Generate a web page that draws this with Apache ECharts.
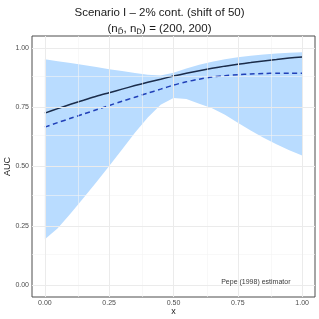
<!DOCTYPE html>
<html>
<head>
<meta charset="utf-8">
<script src="https://cdn.jsdelivr.net/npm/echarts@6/dist/echarts.min.js"></script>
<style>html,body{margin:0;padding:0;background:#fff}#c{width:319px;height:319px}</style>
</head>
<body>
<div id="c"></div>
<script>
var xs = [0,0.05,0.1,0.15,0.2,0.25,0.3,0.35,0.4,0.45,0.5,0.55,0.6,0.65,0.7,0.75,0.8,0.85,0.9,0.95,1];
var trueAUC = [0.725,0.744,0.762,0.779,0.796,0.811,0.826,0.841,0.855,0.868,0.881,0.893,0.904,0.914,0.923,0.931,0.938,0.945,0.951,0.957,0.962];
var meanEst = [0.666,0.685,0.703,0.721,0.739,0.757,0.775,0.792,0.809,0.826,0.843,0.857,0.868,0.877,0.883,0.887,0.890,0.892,0.893,0.893,0.893];
var bandUpper = [0.952,0.944,0.936,0.928,0.919,0.910,0.902,0.894,0.887,0.884,0.895,0.913,0.929,0.942,0.952,0.960,0.967,0.972,0.976,0.979,0.981];
var bandLower = [0.193,0.240,0.302,0.367,0.434,0.502,0.572,0.642,0.706,0.760,0.789,0.785,0.764,0.745,0.718,0.684,0.652,0.621,0.594,0.569,0.546];
var xTicks = [0,0.25,0.5,0.75,1];
var yTicks = [0,0.25,0.5,0.75,1];
var xMinor = [0.125,0.375,0.625,0.875];
var yMinor = [0.125,0.375,0.625,0.875];
var noteText = 'Pepe (1998) estimator';
var notePos = [0.82, 0.015];

var chart = echarts.init(document.getElementById('c'), null, {renderer:'canvas'});
function zip(a,b){return a.map(function(v,i){return [v,b[i]];});}
var gridLines = [];
xMinor.forEach(function(v){gridLines.push({xAxis:v, lineStyle:{color:'#f4f4f4', width:0.6, type:'solid'}});});
yMinor.forEach(function(v){gridLines.push({yAxis:v, lineStyle:{color:'#f4f4f4', width:0.6, type:'solid'}});});
xTicks.forEach(function(v){gridLines.push({xAxis:v, lineStyle:{color:'#ebebeb', width:1, type:'solid'}});});
yTicks.forEach(function(v){gridLines.push({yAxis:v, lineStyle:{color:'#ebebeb', width:1, type:'solid'}});});

var fmt = function(v){return v.toFixed(2);};
var FF = 'Liberation Sans, Arial, sans-serif';
var labelFont = {fontFamily:FF, fontSize:7, color:'#4d4d4d'};

chart.setOption({
  animation:false,
  backgroundColor:'#fff',
  title:[
    {text:'Scenario I \u2013 2% cont. (shift of 50)', left:'center', top:2,
     textStyle:{fontFamily:FF, fontSize:11.5, fontWeight:'normal', color:'#1a1a1a'}},
    {text:'(n{sub|D\u0304}, n{sub|D}) = (200, 200)', left:'center', top:17,
     textStyle:{fontFamily:FF, fontSize:11.5, fontWeight:'normal', color:'#1a1a1a', lineHeight:14,
       rich:{sub:{fontFamily:'DejaVu Sans, Liberation Sans, sans-serif', fontSize:7.5, color:'#1a1a1a', verticalAlign:'bottom', lineHeight:14, padding:[3,0,0,0]}}}}
  ],
  grid:{left:32, right:4, top:36, bottom:22, outerBoundsMode:'none', containLabel:false, show:true, borderColor:'#4d4d4d', borderWidth:1, backgroundColor:'transparent'},
  xAxis:{type:'value', min:-0.05, max:1.05, name:'x', nameLocation:'middle', nameGap:10, nameMoveOverlap:false,
    nameTextStyle:{fontFamily:FF, fontSize:9, color:'#1a1a1a'},
    axisLine:{show:false}, splitLine:{show:false},
    axisTick:{show:true, length:2.5, customValues:xTicks, lineStyle:{color:'#4d4d4d', width:0.8}},
    axisLabel:Object.assign({customValues:xTicks, formatter:fmt, margin:3}, labelFont)},
  yAxis:{type:'value', min:-0.05, max:1.05, name:'AUC', nameLocation:'middle', nameGap:24, nameRotate:90, nameMoveOverlap:false,
    nameTextStyle:{fontFamily:FF, fontSize:9, color:'#1a1a1a', verticalAlign:'middle'},
    axisLine:{show:false}, splitLine:{show:false},
    axisTick:{show:true, length:2.5, customValues:yTicks, lineStyle:{color:'#4d4d4d', width:0.8}},
    axisLabel:Object.assign({customValues:yTicks, formatter:fmt, margin:3}, labelFont)},
  series:[
    {type:'line', data:[], z:1, silent:true,
     markLine:{silent:true, symbol:'none', label:{show:false}, animation:false, data:gridLines}},
    {type:'custom', z:2, silent:true,
     data:[0],
     renderItem:function(params, api){
       var pts = [];
       for (var i=0;i<xs.length;i++) pts.push(api.coord([xs[i], bandUpper[i]]));
       for (var j=xs.length-1;j>=0;j--) pts.push(api.coord([xs[j], bandLower[j]]));
       return {type:'polygon', shape:{points:pts}, style:{fill:'rgb(185,220,255)', stroke:null}};
     }},
    {type:'line', z:3, data:zip(xs,trueAUC), showSymbol:false, smooth:0.3,
     lineStyle:{color:'#1b2c4a', width:1.5}},
    {type:'line', z:4, data:zip(xs,meanEst), showSymbol:false, smooth:0.3,
     lineStyle:{color:'#2140b8', width:1.5, type:[5,3.5]}},
    {type:'scatter', z:5, data:[notePos], symbolSize:0, silent:true,
     label:{show:true, position:'inside', formatter:noteText, fontFamily:FF, fontSize:7, color:'#000'}}
  ]
});
</script>
</body>
</html>
